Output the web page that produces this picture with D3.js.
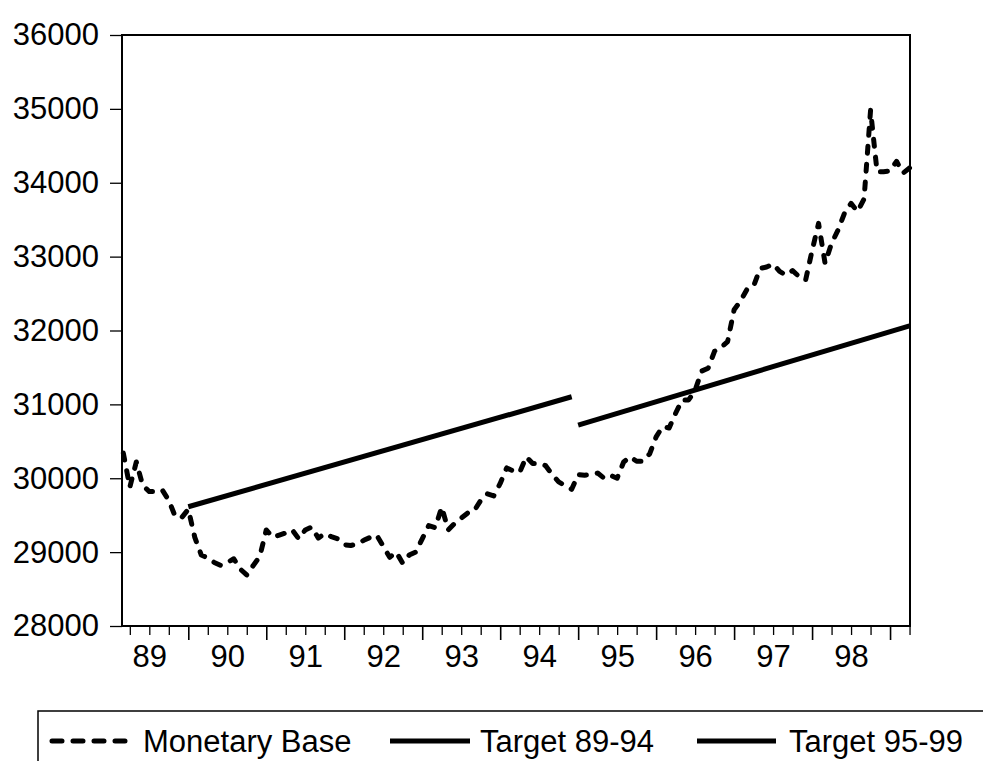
<!DOCTYPE html>
<meta charset="utf-8">
<style>
  body { margin: 0; background: #fff; }
  svg text { font-family: "Liberation Sans", Arial, sans-serif; font-size: 31px; fill: #000; }
</style>
<svg width="983" height="761"></svg>
<script src="https://cdn.jsdelivr.net/npm/d3@7"></script>
<script>

// monthly observations, first one is 1989:03
var startYear = 1989, startMonth = 3;
var monetaryBase = [
  30340, 29880, 30220, 29900, 29820, 29820, 29840, 29700, 29480, 29470,
  29580, 29200, 28960, 28920, 28860, 28820, 28860, 28910, 28770, 28690,
  28820, 28940, 29300, 29200, 29230, 29260, 29300, 29180, 29300, 29340,
  29190, 29250, 29210, 29180, 29100, 29090, 29110, 29160, 29200, 29230,
  29080, 28930, 29000, 28850, 28960, 29000, 29180, 29360, 29330, 29610,
  29300, 29390, 29460, 29530, 29560, 29700, 29790, 29760, 29930, 30140,
  30100, 30080, 30290, 30200, 30200, 30170, 30050, 29950, 29900, 29850,
  30050, 30040, 30050, 30070, 30000, 30040, 30000, 30220, 30290, 30230,
  30230, 30330, 30560, 30700, 30680, 30880, 31060, 31060, 31190, 31450,
  31490, 31720, 31770, 31850, 32280, 32400, 32560, 32600, 32840, 32860,
  32900, 32800, 32750, 32810, 32730, 32680, 33080, 33450, 32910, 33180,
  33360, 33590, 33720, 33610, 33780, 34980, 34150, 34150, 34160, 34290,
  34130, 34200
];

// target paths: [year, month, value]
var target8994 = [[1990, 1, 29614], [1994, 12, 31103]];
var target9599 = [[1995, 1, 30720], [1999, 4, 32064]];

var yTicks = [28000, 29000, 30000, 31000, 32000, 33000, 34000, 35000, 36000];
var yearLabels = ["89", "90", "91", "92", "93", "94", "95", "96", "97", "98"];

var svg = d3.select("svg");
var plotL = 122, plotR = 910, plotT = 35, plotB = 626;

function dec(yr, m) { return yr + (m - 1) / 12; }

var x = d3.scaleLinear()
    .domain([1989.1497, 1999.2559])
    .range([plotL, plotR]);

var y = d3.scaleLinear()
    .domain([28000, 36000])
    .range([plotB, plotT]);

var mbData = monetaryBase.map(function(v, i) {
  return { t: dec(startYear, startMonth) + i / 12, v: v };
});

// y axis
svg.append("g")
    .attr("transform", "translate(" + plotL + ",0)")
    .call(d3.axisLeft(y).tickValues(yTicks).tickSize(12).tickPadding(11).tickFormat(d3.format("d")))
    .call(function(g) { g.select(".domain").remove(); })
    .call(function(g) { g.selectAll("line").attr("stroke", "#000").attr("stroke-width", 1.3); })
    .call(function(g) { g.selectAll("text").style("font-size", "31px").attr("fill", "#000"); });

// x axis: quarterly minor ticks, yearly major ticks, labels mid-year
var quarters = d3.range(1989.25, 1999.26, 0.25).filter(function(d) { return d % 1 !== 0; });
var years = d3.range(1990, 2000);

svg.append("g")
    .attr("transform", "translate(0," + plotB + ")")
    .call(d3.axisBottom(x).tickValues(quarters).tickSize(9).tickFormat(""))
    .call(function(g) { g.select(".domain").remove(); })
    .call(function(g) { g.selectAll("line").attr("stroke", "#000").attr("stroke-width", 1.3); });

svg.append("g")
    .attr("transform", "translate(0," + plotB + ")")
    .call(d3.axisBottom(x).tickValues(years).tickSize(14).tickFormat(""))
    .call(function(g) { g.select(".domain").remove(); })
    .call(function(g) { g.selectAll("line").attr("stroke", "#000").attr("stroke-width", 1.6); });

svg.append("g")
    .attr("transform", "translate(0," + plotB + ")")
    .call(d3.axisBottom(x).tickValues(years.map(function(d) { return d - 0.5; }))
      .tickSize(0).tickPadding(19).tickFormat(function(d, i) { return yearLabels[i]; }))
    .call(function(g) { g.select(".domain").remove(); })
    .call(function(g) { g.selectAll("text").style("font-size", "31px").attr("fill", "#000"); });

// frame
svg.append("rect")
    .attr("x", plotL).attr("y", plotT)
    .attr("width", plotR - plotL).attr("height", plotB - plotT)
    .attr("fill", "none").attr("stroke", "#000").attr("stroke-width", 2);

var line = d3.line()
    .x(function(d) { return x(d.t); })
    .y(function(d) { return y(d.v); });

svg.append("path")
    .datum(mbData)
    .attr("d", line)
    .attr("fill", "none")
    .attr("stroke", "#000")
    .attr("stroke-width", 5)
    .attr("stroke-linecap", "round")
    .attr("stroke-linejoin", "round")
    .attr("stroke-dasharray", "7,11");

[target8994, target9599].forEach(function(tg) {
  svg.append("path")
      .datum(tg.map(function(d) { return { t: dec(d[0], d[1]), v: d[2] }; }))
      .attr("d", line)
      .attr("fill", "none")
      .attr("stroke", "#000")
      .attr("stroke-width", 5);
});

// legend
svg.append("rect")
    .attr("x", 38).attr("y", 711)
    .attr("width", 1000).attr("height", 100)
    .attr("fill", "none").attr("stroke", "#000").attr("stroke-width", 1.5);

var legendItems = [
  { name: "Monetary Base", x0: 52, x1: 126, tx: 143, dash: "10,11" },
  { name: "Target 89-94", x0: 390, x1: 470, tx: 480, dash: null },
  { name: "Target 95-99", x0: 697, x1: 776, tx: 789, dash: null }
];

var lg = svg.selectAll(".legend")
    .data(legendItems)
    .enter().append("g")
      .attr("class", "legend");

lg.append("line")
    .attr("x1", function(d) { return d.x0; })
    .attr("x2", function(d) { return d.x1; })
    .attr("y1", 741).attr("y2", 741)
    .attr("stroke", "#000")
    .attr("stroke-width", 5)
    .attr("stroke-linecap", function(d) { return d.dash ? "round" : "butt"; })
    .attr("stroke-dasharray", function(d) { return d.dash; });

lg.append("text")
    .attr("x", function(d) { return d.tx; })
    .attr("y", 752)
    .text(function(d) { return d.name; });

</script>
